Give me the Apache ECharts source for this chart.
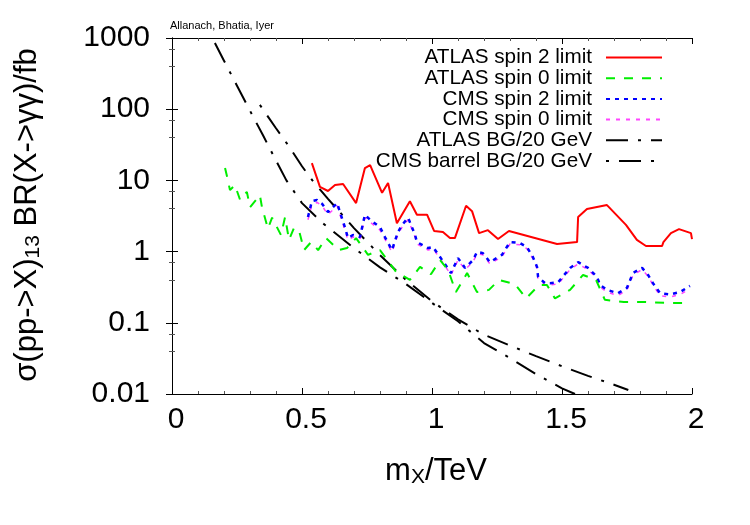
<!DOCTYPE html>
<html>
<head>
<meta charset="utf-8">
<script src="https://cdn.jsdelivr.net/npm/echarts@6/dist/echarts.min.js"></script>
<style>
  html, body { margin: 0; padding: 0; background: #fff; }
  #chart { width: 750px; height: 525px; }
</style>
</head>
<body>
<div id="chart"></div>
<script>
// ATLAS spin 2 limit (red, solid)
const atlasSpin2X = [0.538, 0.569, 0.6, 0.627, 0.658, 0.708, 0.742, 0.762, 0.808, 0.831, 0.865, 0.915, 0.942, 0.981, 1.008, 1.042, 1.069, 1.088, 1.131, 1.154, 1.181, 1.215, 1.254, 1.296, 1.481, 1.558, 1.562, 1.596, 1.673, 1.746, 1.788, 1.823, 1.885, 1.89, 1.919, 1.95, 1.996, 2.0]
const atlasSpin2Y = [17.5, 8.1, 7.1, 8.6, 8.9, 4.8, 14.9, 16.4, 6.7, 9.2, 2.5, 5.1, 3.3, 3.3, 1.95, 1.88, 1.55, 1.55, 4.4, 3.7, 1.82, 2.0, 1.5, 1.95, 1.28, 1.36, 3.06, 3.96, 4.5, 2.37, 1.46, 1.2, 1.2, 1.36, 1.82, 2.07, 1.82, 1.5]

// ATLAS spin 0 limit (green, dashed)
const atlasSpin0X = [0.204, 0.212, 0.223, 0.242, 0.262, 0.288, 0.3, 0.338, 0.346, 0.369, 0.385, 0.419, 0.435, 0.45, 0.469, 0.488, 0.508, 0.535, 0.562, 0.592, 0.642, 0.673, 0.708, 0.754, 0.8, 0.862, 0.915, 0.954, 0.996, 1.031, 1.062, 1.092, 1.135, 1.173, 1.219, 1.258, 1.319, 1.362, 1.412, 1.442, 1.473, 1.531, 1.581, 1.631, 1.665, 1.738, 1.819, 1.904, 1.992]
const atlasSpin0Y = [14.9, 11.2, 7.3, 8.6, 5.3, 6.9, 4.2, 6.2, 4.2, 2.1, 3.0, 1.71, 3.06, 1.46, 2.14, 2.0, 1.05, 1.36, 1.05, 1.55, 1.05, 1.12, 1.55, 0.9, 1.05, 0.52, 0.4, 0.61, 0.48, 0.76, 0.55, 0.27, 0.5, 0.27, 0.29, 0.4, 0.35, 0.22, 0.34, 0.34, 0.22, 0.29, 0.47, 0.4, 0.21, 0.196, 0.196, 0.19, 0.19]

// CMS spin 2 / spin 0 limits (dotted)
const cmsX = [0.523, 0.538, 0.558, 0.577, 0.6, 0.635, 0.665, 0.677, 0.696, 0.723, 0.742, 0.762, 0.8, 0.819, 0.846, 0.869, 0.885, 0.908, 0.935, 0.942, 0.985, 1.004, 1.031, 1.073, 1.1, 1.127, 1.158, 1.173, 1.196, 1.223, 1.269, 1.288, 1.3, 1.338, 1.365, 1.388, 1.404, 1.408, 1.435, 1.454, 1.485, 1.531, 1.562, 1.6, 1.635, 1.646, 1.673, 1.715, 1.75, 1.773, 1.808, 1.831, 1.85, 1.877, 1.915, 1.954, 1.992]
const cmsSpin2Y = [3.06, 5.1, 5.3, 4.7, 3.6, 4.8, 2.2, 1.55, 1.71, 1.6, 3.3, 2.8, 2.2, 1.6, 1.05, 1.88, 2.37, 3.0, 1.71, 1.36, 1.12, 1.16, 0.84, 0.5, 0.81, 0.59, 0.76, 0.99, 0.95, 0.71, 0.9, 1.16, 1.36, 1.32, 1.16, 0.84, 0.61, 0.44, 0.36, 0.36, 0.37, 0.59, 0.71, 0.59, 0.44, 0.34, 0.29, 0.26, 0.31, 0.5, 0.59, 0.47, 0.36, 0.26, 0.25, 0.27, 0.33]
const cmsSpin0Y = [2.8, 4.6, 4.9, 4.4, 3.3, 4.4, 2.0, 1.45, 1.6, 1.5, 3.0, 2.6, 2.0, 1.5, 0.98, 1.75, 2.2, 2.8, 1.6, 1.28, 1.05, 1.1, 0.8, 0.47, 0.76, 0.56, 0.72, 0.93, 0.9, 0.67, 0.85, 1.1, 1.28, 1.25, 1.1, 0.8, 0.58, 0.42, 0.34, 0.34, 0.35, 0.56, 0.67, 0.56, 0.42, 0.32, 0.27, 0.24, 0.29, 0.47, 0.56, 0.45, 0.34, 0.24, 0.23, 0.25, 0.3]

// background curves (black, dash-dot)
const atlasBgX = [0.165, 0.2, 0.25, 0.3, 0.35, 0.4, 0.44, 0.5, 0.58, 0.6, 0.7, 0.8, 0.9, 1.0, 1.1, 1.2, 1.3, 1.4, 1.5, 1.55]
const atlasBgY = [850, 480, 214, 95, 43, 19, 10, 4.8, 2.5, 2.2, 1.12, 0.6, 0.35, 0.19, 0.105, 0.052, 0.032, 0.019, 0.012, 0.01]
const cmsBgX = [0.338, 0.4, 0.45, 0.5, 0.54, 0.6, 0.7, 0.8, 0.9, 1.0, 1.1, 1.2, 1.3, 1.4, 1.5, 1.6, 1.7, 1.755]
const cmsBgY = [115, 54, 30, 15.8, 10, 5.5, 2.14, 0.89, 0.4, 0.2, 0.112, 0.068, 0.048, 0.034, 0.0245, 0.018, 0.0135, 0.0114]

const yTickLabels = ['0.01', '0.1', '1', '10', '100', '1000']
const seriesNames = ['ATLAS spin 2 limit', 'ATLAS spin 0 limit', 'CMS spin 2 limit', 'CMS spin 0 limit', 'ATLAS BG/20 GeV', 'CMS barrel BG/20 GeV']

const font = '"Liberation Sans", Arial, sans-serif'

function pairs(xs, ys) {
  return xs.map((x, i) => [x, ys[i]])
}

const chart = echarts.init(document.getElementById('chart'))

const frameX = {
  type: 'value',
  min: 0,
  max: 2,
  interval: 0.5,
  axisLine: { show: true, lineStyle: { color: '#000', width: 1 } },
  axisTick: { show: true, inside: true, length: 6, lineStyle: { color: '#000' } },
  minorTick: { show: true, splitNumber: 5, length: 3, lineStyle: { color: '#555' } },
  splitLine: { show: false }
}
const frameY = {
  type: 'log',
  logBase: 10,
  min: 0.01,
  max: 1000,
  axisLine: { show: true, lineStyle: { color: '#000', width: 1 } },
  axisTick: { show: true, inside: true, length: 6, lineStyle: { color: '#000' } },
  minorTick: { show: true, splitNumber: 3, length: 3, lineStyle: { color: '#555' } },
  splitLine: { show: false }
}

// shared rich styles for the axis titles
const titleRich = {
  a: { fontSize: 31, fontFamily: font, fill: '#000', lineHeight: 34, verticalAlign: 'middle' },
  s: { fontSize: 21, fontFamily: font, fill: '#000', lineHeight: 14, verticalAlign: 'bottom' }
}

const option = {
  animation: false,
  backgroundColor: '#fff',
  grid: { left: 172, right: 58, top: 38, bottom: 131, containLabel: false },
  xAxis: [
    Object.assign({}, frameX, {
      position: 'bottom',
      axisLabel: {
        fontSize: 30, fontFamily: font, color: '#000', margin: 11, padding: [0, 0, 0, 8],
        formatter: v => String(v)
      }
    }),
    Object.assign({}, frameX, { position: 'top', axisLabel: { show: false } })
  ],
  yAxis: [
    Object.assign({}, frameY, {
      position: 'left',
      axisLabel: {
        fontSize: 30, fontFamily: font, color: '#000', margin: 22,
        formatter: v => yTickLabels[Math.round(Math.log10(v)) + 2]
      }
    }),
    Object.assign({}, frameY, { position: 'right', axisLabel: { show: false } })
  ],
  legend: {
    orient: 'vertical',
    right: 82,
    top: 42,
    align: 'right',
    itemWidth: 56,
    itemHeight: 14,
    itemGap: -0.3,
    data: seriesNames,
    itemStyle: { color: 'rgba(0,0,0,0)', borderWidth: 0 },
    textStyle: { fontSize: 20.7, fontFamily: font, color: '#000', padding: [0, 9, 0, 0] }
  },
  graphic: [
    {
      type: 'text', left: 170, top: 20,
      style: { text: 'Allanach, Bhatia, Iyer', fontSize: 11, fontFamily: font, fill: '#000' }
    },
    {
      type: 'text', x: 27, y: 215, rotation: Math.PI / 2,
      style: {
        text: '{a|σ(pp->X)}{s|13}{a| BR(X->γγ)/fb}',
        align: 'center', verticalAlign: 'middle',
        rich: titleRich
      }
    },
    {
      type: 'text', x: 436, y: 471,
      style: {
        text: '{a|m}{s|X}{a|/TeV}',
        align: 'center', verticalAlign: 'middle',
        rich: titleRich
      }
    }
  ],
  series: [
    {
      name: seriesNames[0], type: 'line', symbol: 'none', showSymbol: false, data: pairs(atlasSpin2X, atlasSpin2Y),
      lineStyle: { color: '#ff0000', width: 2, type: 'solid' }, itemStyle: { color: '#ff0000' }, z: 5
    },
    {
      name: seriesNames[1], type: 'line', symbol: 'none', showSymbol: false, data: pairs(atlasSpin0X, atlasSpin0Y),
      lineStyle: { color: '#00ee00', width: 2, type: [9, 9] }, itemStyle: { color: '#00ee00' }, z: 4
    },
    {
      name: seriesNames[2], type: 'line', symbol: 'none', showSymbol: false, data: pairs(cmsX, cmsSpin2Y),
      lineStyle: { color: '#0000ff', width: 2.5, type: [4, 5] }, itemStyle: { color: '#0000ff' }, z: 3
    },
    {
      name: seriesNames[3], type: 'line', symbol: 'none', showSymbol: false, data: pairs(cmsX, cmsSpin0Y),
      lineStyle: { color: '#ff44ff', width: 1.5, type: [4, 6] }, itemStyle: { color: '#ff44ff' }, z: 2
    },
    {
      name: seriesNames[4], type: 'line', symbol: 'none', showSymbol: false, data: pairs(atlasBgX, atlasBgY),
      lineStyle: { color: '#000', width: 2, type: [22, 10, 3, 10] }, itemStyle: { color: '#000' }, z: 1
    },
    {
      name: seriesNames[5], type: 'line', symbol: 'none', showSymbol: false, data: pairs(cmsBgX, cmsBgY),
      lineStyle: { color: '#000', width: 2, type: [3, 10, 22, 10] }, itemStyle: { color: '#000' }, z: 1
    }
  ]
}

chart.setOption(option)
</script>
</body>
</html>
